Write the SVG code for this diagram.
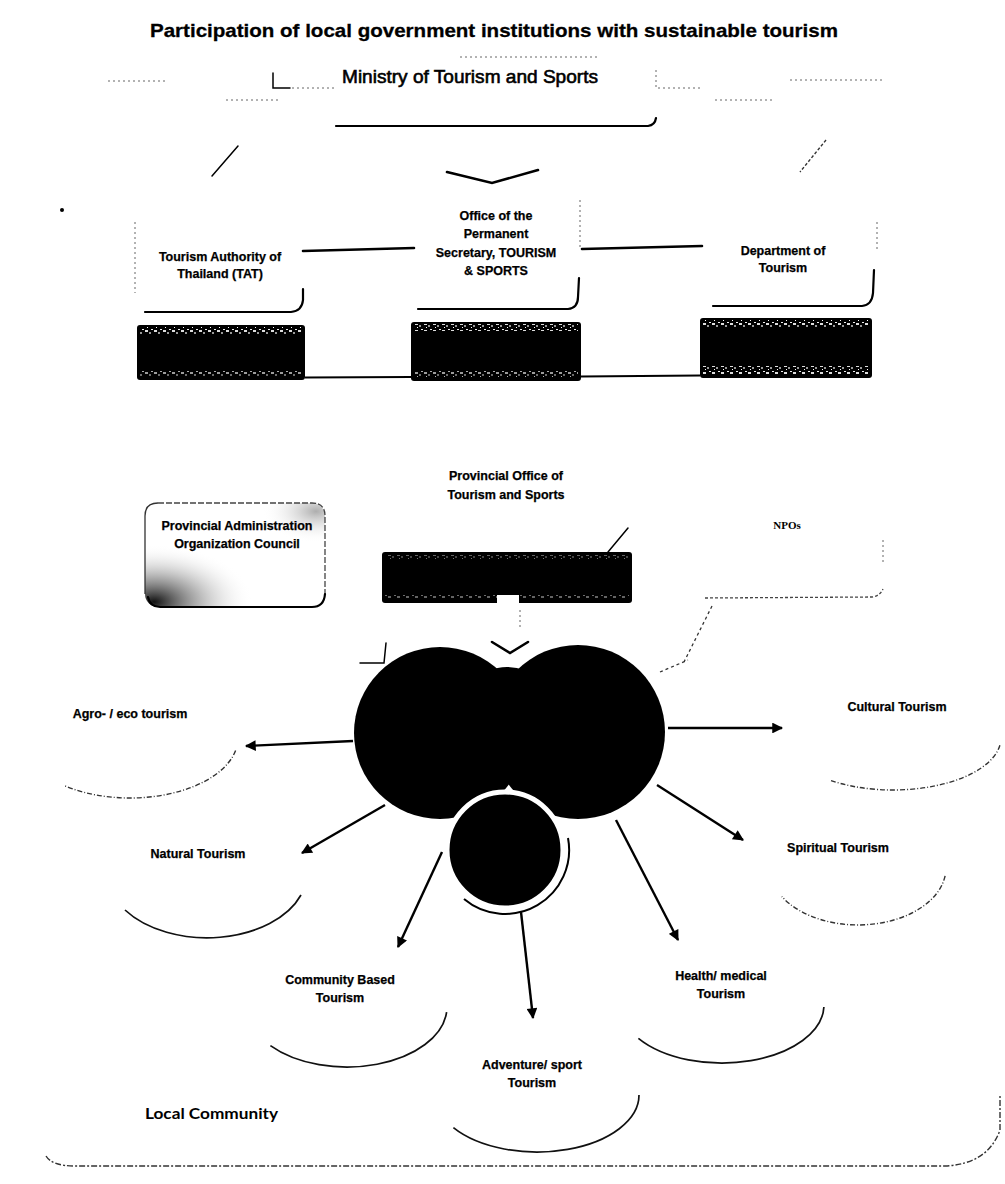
<svg xmlns="http://www.w3.org/2000/svg" width="1005" height="1184" viewBox="0 0 1005 1184">
<defs>
<style>
.lbl{font-family:"Liberation Sans",Arial,sans-serif;font-weight:bold;font-size:12.5px;fill:#000;text-anchor:middle;stroke:#000;stroke-width:0.25}
.edge{fill:none;stroke:#000;stroke-width:2.2;stroke-linecap:round;stroke-linejoin:round}
.thin{fill:none;stroke:#000;stroke-width:1.5;stroke-linecap:round}
.faint{fill:none;stroke:#666;stroke-width:1;stroke-dasharray:2 3}
.arc{fill:none;stroke:#111;stroke-width:1.7}
.arcd{fill:none;stroke:#333;stroke-width:1.4;stroke-dasharray:5 2 1 2}
.arrow{fill:none;stroke:#000;stroke-width:2.4;marker-end:url(#ah)}
.line{fill:none;stroke:#000;stroke-width:2.6;stroke-linecap:round}
</style>
<marker id="ah" viewBox="0 0 10 10" refX="9" refY="5" markerWidth="5.5" markerHeight="4.5" orient="auto" markerUnits="strokeWidth">
<path d="M0,0 L10,5 L0,10 z" fill="#000"/>
</marker>
<pattern id="speck" width="9" height="7" patternUnits="userSpaceOnUse">
<rect width="9" height="7" fill="#000"/>
<rect x="1" y="1" width="3" height="2" fill="#ddd"/>
<rect x="5" y="3" width="2" height="2" fill="#999"/>
<rect x="3" y="5" width="1" height="1" fill="#fff"/>
<rect x="7" y="0" width="2" height="1" fill="#eee"/>
</pattern>
<radialGradient id="grime" cx="0.05" cy="0.95" r="0.55">
<stop offset="0" stop-color="#111"/>
<stop offset="0.45" stop-color="#777" stop-opacity="0.55"/>
<stop offset="1" stop-color="#fff" stop-opacity="0"/>
</radialGradient>
<radialGradient id="grime2" cx="0.95" cy="0.08" r="0.3">
<stop offset="0" stop-color="#777" stop-opacity="0.6"/>
<stop offset="1" stop-color="#fff" stop-opacity="0"/>
</radialGradient>
</defs>

<rect width="1005" height="1184" fill="#fff"/>

<g id="title">
<text x="494" y="37" font-family="Liberation Sans, Arial, sans-serif" font-weight="bold" font-size="19" text-anchor="middle" stroke="#000" stroke-width="0.3" textLength="688" lengthAdjust="spacingAndGlyphs">Participation of local government institutions with sustainable tourism</text>
</g>

<g id="ministry">
<path class="faint" d="M460,57 L600,57"/>
<path class="faint" d="M108,81 L165,81"/>
<path class="thin" d="M273,73 L273,88 L290,88"/>
<path class="faint" d="M292,88 L335,88"/>
<path class="faint" d="M656,70 L656,88 L700,88"/>
<path class="faint" d="M790,80 L882,80"/>
<path class="faint" d="M226,100 L280,100"/>
<path class="faint" d="M715,100 L775,100"/>
<text x="470" y="83" font-family="Liberation Sans, Arial, sans-serif" font-size="18.5" text-anchor="middle" stroke="#000" stroke-width="0.6" textLength="256" lengthAdjust="spacingAndGlyphs">Ministry of Tourism and Sports</text>
<path class="edge" d="M336,126 L648,126 Q655,125 656,118"/>
</g>

<g id="dot"><circle cx="62" cy="210" r="2" fill="#000"/></g>

<g id="tat">
<path class="faint" d="M135,222 L135,293"/>
<path class="edge" d="M145,312 L291,312 Q302,311 303,300 L303,289"/>
<text class="lbl" x="220" y="260.5">Tourism Authority of</text>
<text class="lbl" x="220" y="277.5">Thailand (TAT)</text>
<rect x="137" y="325" width="168" height="55" rx="3" fill="#000"/>
<rect x="140" y="327" width="162" height="7" fill="url(#speck)"/>
<rect x="140" y="370" width="162" height="6" fill="url(#speck)" opacity="0.7"/>
</g>

<g id="ops">
<path class="faint" d="M580,200 L580,250"/>
<text class="lbl" x="496" y="219.5">Office of the</text>
<text class="lbl" x="496" y="237.5">Permanent</text>
<text class="lbl" x="496" y="256.5">Secretary, TOURISM</text>
<text class="lbl" x="496" y="274.5">&amp; SPORTS</text>
<path class="edge" d="M418,309 L568,309 Q578,308 578,297 L579,278"/>
<rect x="411" y="322" width="170" height="59" rx="3" fill="#000"/>
<rect x="414" y="324" width="164" height="7" fill="url(#speck)"/>
<rect x="414" y="371" width="164" height="6" fill="url(#speck)" opacity="0.7"/>
</g>

<g id="dept">
<path class="faint" d="M877,222 L877,250"/>
<text class="lbl" x="783" y="254.5">Department of</text>
<text class="lbl" x="783" y="271.5">Tourism</text>
<path class="edge" d="M713,306 L862,306 Q872,305 873,293 L874,270"/>
<rect x="700" y="318" width="172" height="60" rx="3" fill="#000"/>
<rect x="703" y="320" width="166" height="7" fill="url(#speck)"/>
<rect x="703" y="366" width="166" height="8" fill="url(#speck)"/>
</g>

<g id="pao">
<rect x="145" y="503" width="180" height="104" rx="13" fill="url(#grime)"/>
<rect x="145" y="503" width="180" height="104" rx="13" fill="url(#grime2)"/>
<path fill="none" stroke="#444" stroke-width="1.3" stroke-dasharray="6 2" d="M158,503 L312,503 Q325,503 325,516 L325,594"/>
<path fill="none" stroke="#333" stroke-width="1.3" d="M158,503 Q145,503 145,516 L145,594"/>
<path class="edge" d="M148,597 Q150,607 160,607 L312,607 Q324,607 325,594"/>
<text class="lbl" x="237" y="529.5">Provincial Administration</text>
<text class="lbl" x="237" y="547.5">Organization Council</text>
</g>

<g id="provincial">
<text class="lbl" x="506" y="480" font-size="13.5">Provincial Office of</text>
<text class="lbl" x="506" y="498.5" font-size="13.5">Tourism and Sports</text>
<rect x="382" y="552" width="250" height="51" rx="3" fill="#000"/>
<rect x="385" y="555" width="244" height="5" fill="url(#speck)" opacity="0.45"/>
<rect x="385" y="594" width="244" height="4" fill="url(#speck)" opacity="0.45"/>
<rect x="497" y="595" width="22" height="10" fill="#fff"/>
<path class="faint" d="M520,610 L520,628"/>
</g>

<g id="npos">
<text x="787" y="529" font-family="Liberation Serif, 'Times New Roman', serif" font-weight="bold" font-size="11" text-anchor="middle">NPOs</text>
<path fill="none" stroke="#444" stroke-width="1.3" stroke-dasharray="3 2" d="M705,598 L872,597 Q880,596 883,589"/>
<path class="faint" d="M883,540 L883,565"/>
</g>

<g id="connectors">
<path class="thin" d="M238,146 L212,176"/>
<path fill="none" stroke="#333" stroke-width="1.4" stroke-dasharray="3 2" d="M826,140 L800,172"/>
<path class="line" d="M447,172 L492,183 L538,170"/>
<path class="line" d="M303,251 L414,248"/>
<path class="line" d="M582,249 L702,246"/>
<path fill="none" stroke="#000" stroke-width="1.8" d="M305,377.5 L411,377 M581,376.5 L700,375.5"/>
<path class="thin" d="M608,552 L628,528"/>
<path class="thin" d="M386,643 L384,663 L360,663"/>
<path class="line" d="M492,642 L510,653 L528,642"/>
<path fill="none" stroke="#333" stroke-width="1.3" stroke-dasharray="3 3" d="M712,606 L684,662 M660,672 L688,660"/>
<path class="arrow" d="M353,741 L246,746"/>
<path class="arrow" d="M385,805 L302,853"/>
<path class="arrow" d="M442,852 L398,947"/>
<path class="arrow" d="M521,912 L533,1018"/>
<path class="arrow" d="M616,820 L678,940"/>
<path class="arrow" d="M657,785 L743,840"/>
<path class="arrow" d="M668,728 L782,728"/>
</g>

<g id="hub">
<circle cx="507" cy="715" r="48" fill="#000"/>
<circle cx="440" cy="733" r="86" fill="#000"/>
<circle cx="578" cy="732" r="87" fill="#000"/>
<path fill="none" stroke="#000" stroke-width="2" d="M568,838 A64,64 0 0 1 464,899"/>
<circle cx="505" cy="850" r="58" fill="#000" stroke="#fff" stroke-width="5"/>
</g>

<g id="agro">
<text class="lbl" x="130" y="717.5">Agro- / eco tourism</text>
<path class="arcd" d="M235.6,750.5 A108,60 0 0 1 63.5,785.3"/>
</g>
<g id="natural">
<text class="lbl" x="198" y="857.5">Natural Tourism</text>
<path class="arc" d="M301,895 A100,65 0 0 1 125,910"/>
</g>
<g id="community">
<text class="lbl" x="340" y="984">Community Based</text>
<text class="lbl" x="340" y="1002">Tourism</text>
<path class="arc" d="M446.6,1012.2 A100,60 0 0 1 270.4,1045.6"/>
</g>
<g id="adventure">
<text class="lbl" x="532" y="1069" font-size="12">Adventure/ sport</text>
<text class="lbl" x="532" y="1087" font-size="12">Tourism</text>
<path class="arc" d="M639,1095 A102,57 0 0 1 453.4,1127.7"/>
</g>
<g id="health">
<text class="lbl" x="721" y="979.5">Health/ medical</text>
<text class="lbl" x="721" y="997.5">Tourism</text>
<path class="arc" d="M823.9,1007 A102,58 0 0 1 638.4,1038.3"/>
</g>
<g id="spiritual">
<text class="lbl" x="838" y="851.5">Spiritual Tourism</text>
<path class="arcd" d="M945.1,875.9 A88,57 0 0 1 781.8,896.5"/>
</g>
<g id="cultural">
<text class="lbl" x="897" y="710.5">Cultural Tourism</text>
<path class="arcd" d="M999.9,745.2 A108,52 0 0 1 831,780.6"/>
</g>

<g id="local-community">
<text x="145" y="1119" font-family="Lato, 'Open Sans', sans-serif" font-weight="bold" font-size="16" textLength="133" lengthAdjust="spacingAndGlyphs">Local Community</text>
<path fill="none" stroke="#333" stroke-width="1.4" stroke-dasharray="6 2 2 2" d="M46,1156 Q52,1166 75,1166 L945,1166 Q988,1164 1000,1130 L1000,1095"/>
</g>
</svg>
